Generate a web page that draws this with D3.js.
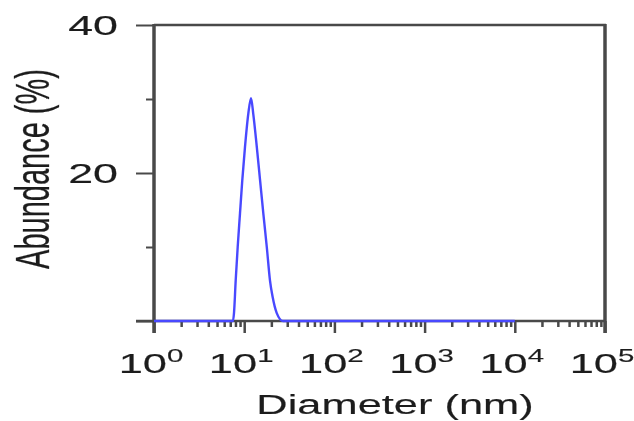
<!DOCTYPE html>
<html>
<head>
<meta charset="utf-8">
<script src="https://cdn.jsdelivr.net/npm/d3@7"></script>
<style>
  html, body { margin: 0; padding: 0; background: #fff; }
  svg { display: block; }
  text { font-family: "Liberation Sans", Arial, sans-serif; fill: #1e1e1e; stroke: #1e1e1e; stroke-width: 0.15px; }
</style>
</head>
<body>
<svg id="chart" width="634" height="421"></svg>
<script>
// ---- data ----
const diameters = [1, 7.51, 7.71, 8.05, 8.47, 8.98, 9.52, 10.2, 11.1, 11.9, 12.6, 13.8, 15.0, 16.3, 17.8, 19.3, 20.7, 22.9, 26.9, 10000];
const abundance = [0, 0, 1.1, 5.5, 10.0, 14.5, 19.0, 23.5, 28.0, 30.1, 28.0, 23.5, 19.0, 14.5, 10.0, 5.5, 3.2, 1.1, 0, 0];
const yMajorTicks = [0, 20, 40];
const yMinorTicks = [10, 30];
const yTickLabels = ["", "20", "40"];
const xDecades = [1, 10, 100, 1000, 10000, 100000];
const xExponents = ["0", "1", "2", "3", "4", "5"];
const xTitle = "Diameter (nm)";
const yTitle = "Abundance (%)";

const svg = d3.select("#chart");
const SX = 1.6, FS = 28;

const defs = svg.append("defs");
defs.append("filter").attr("id", "soft")
  .attr("x", "-5%").attr("y", "-5%").attr("width", "110%").attr("height", "110%")
  .append("feGaussianBlur").attr("stdDeviation", 0.6);

const root = svg.append("g").attr("filter", "url(#soft)");

const x = d3.scaleLog().domain([1, 100000]).range([154, 605]);
const y = d3.scaleLinear().domain([0, 40]).range([321, 25]);

const axisColor = "#4a4a4a";

// minor x ticks
const xMinor = [];
for (let d = 0; d < 5; d++) for (let k = 2; k <= 9; k++) xMinor.push(k * Math.pow(10, d));

const gx = root.append("g").attr("transform", "translate(0,321)");
gx.call(d3.axisBottom(x).tickValues(xMinor).tickSize(6).tickFormat(""));
gx.call(g => g.select(".domain").remove());
const gx2 = root.append("g").attr("transform", "translate(0,321)");
gx2.call(d3.axisBottom(x).tickValues(xDecades).tickSize(12).tickFormat(""));
gx2.call(g => g.select(".domain").remove());
root.selectAll("g .tick line").attr("stroke", axisColor).attr("stroke-width", 2.5);

// y ticks
const gy = root.append("g").attr("transform", "translate(154,0)");
gy.call(d3.axisLeft(y).tickValues(yMajorTicks).tickSize(18).tickFormat(""));
gy.call(g => g.select(".domain").remove());
const gy2 = root.append("g").attr("transform", "translate(154,0)");
gy2.call(d3.axisLeft(y).tickValues(yMinorTicks).tickSize(8).tickFormat(""));
gy2.call(g => g.select(".domain").remove());
gy.selectAll(".tick line").attr("stroke", axisColor).attr("stroke-width", 2);
gy2.selectAll(".tick line").attr("stroke", axisColor).attr("stroke-width", 2);

// frame
root.append("line").attr("x1", 136).attr("x2", 606).attr("y1", y(0)).attr("y2", y(0))
  .attr("stroke", axisColor).attr("stroke-width", 2.5);
root.append("line").attr("x1", 154).attr("x2", 606).attr("y1", y(40)).attr("y2", y(40))
  .attr("stroke", axisColor).attr("stroke-width", 2.5);
root.append("line").attr("x1", x(1)).attr("x2", x(1)).attr("y1", y(40) - 1).attr("y2", 333)
  .attr("stroke", axisColor).attr("stroke-width", 3.5);
root.append("line").attr("x1", x(100000)).attr("x2", x(100000)).attr("y1", y(40) - 1).attr("y2", 333)
  .attr("stroke", axisColor).attr("stroke-width", 3.5);

// data line
const pts = diameters.map((d, i) => [d, abundance[i]]);
root.append("path").datum(pts)
  .attr("fill", "none").attr("stroke", "#4a4aff").attr("stroke-width", 2.4)
  .attr("stroke-linejoin", "round")
  .attr("d", d3.line().x(p => x(p[0])).y(p => y(p[1])).curve(d3.curveMonotoneX));

// y tick labels
yMajorTicks.forEach((v, i) => {
  if (!yTickLabels[i]) return;
  root.append("text")
    .attr("transform", `translate(118,${y(v) + 10}) scale(${SX},1)`)
    .attr("text-anchor", "end").attr("font-size", FS)
    .text(yTickLabels[i]);
});

// x tick labels
xDecades.forEach((v, i) => {
  const t = root.append("text")
    .attr("transform", `translate(${x(v) - 3},373) scale(1.55,1)`)
    .attr("text-anchor", "middle").attr("font-size", FS);
  t.append("tspan").text("10");
  t.append("tspan").attr("font-size", 19).attr("dy", -11).text(xExponents[i]);
});

// axis titles
root.append("text")
  .attr("transform", `translate(395,414) scale(1.55,1)`)
  .attr("text-anchor", "middle").attr("font-size", FS)
  .text(xTitle);
root.append("text")
  .attr("transform", `translate(49,169) scale(1.65,1) rotate(-90)`)
  .attr("text-anchor", "middle").attr("font-size", 29)
  .text(yTitle);
</script>
</body>
</html>
